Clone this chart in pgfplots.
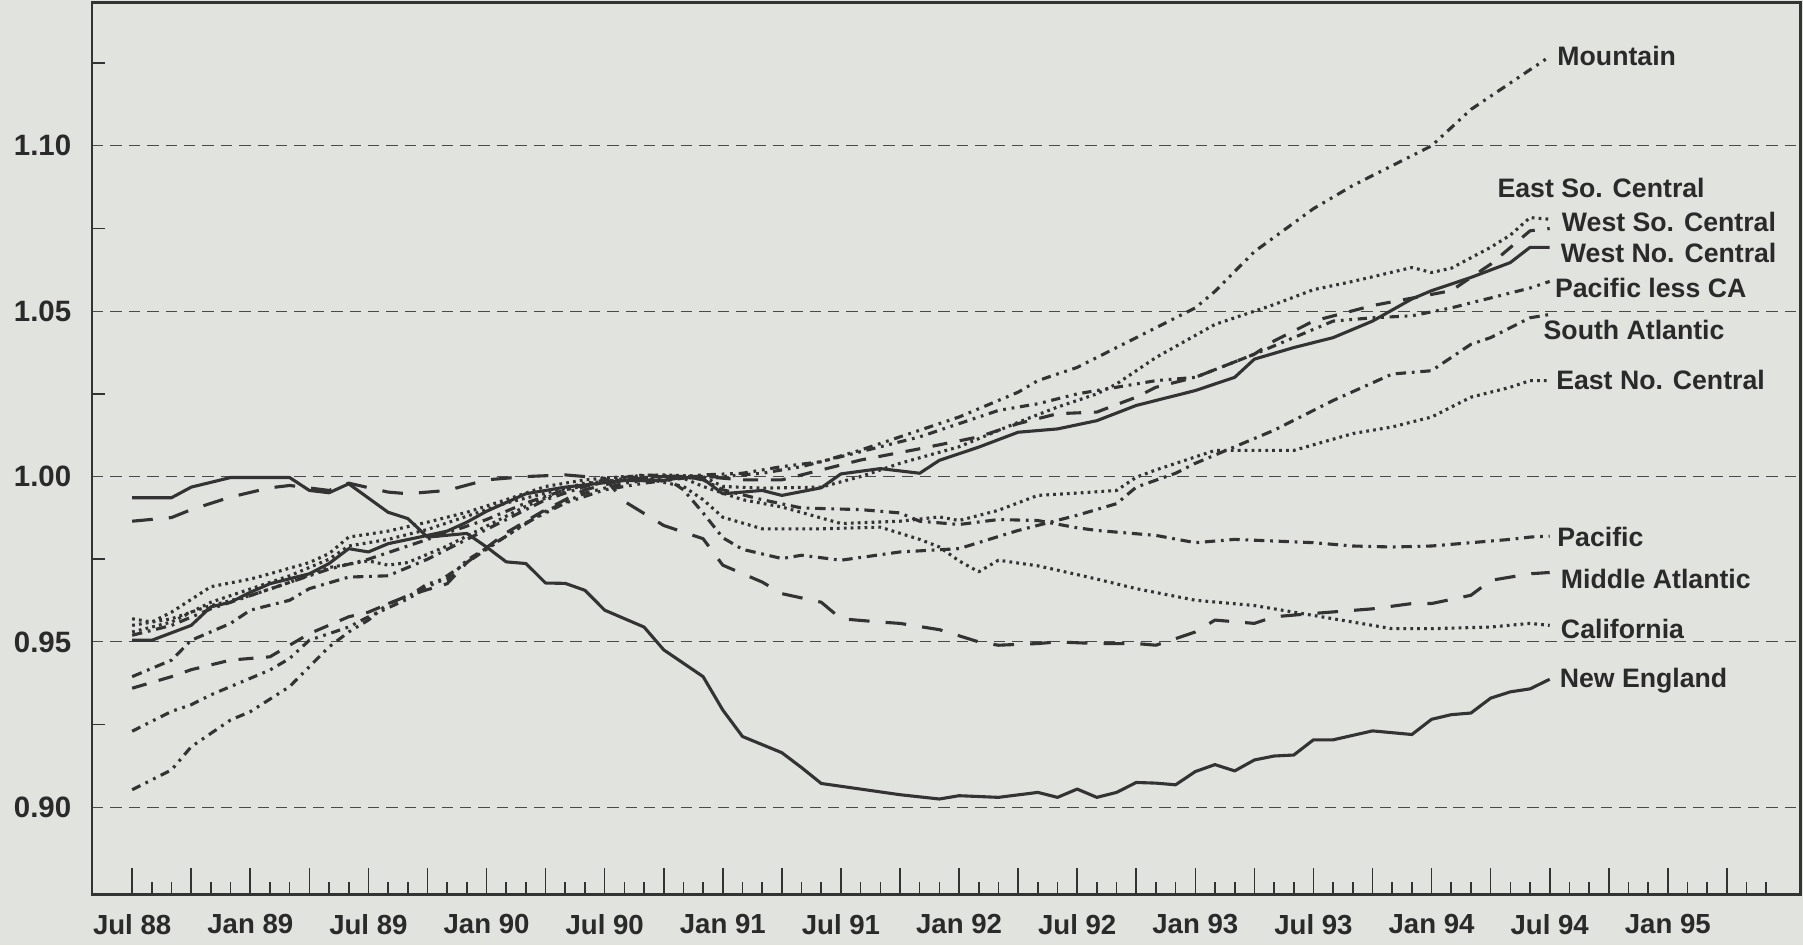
\documentclass[border=0pt]{standalone}
\usepackage{fontspec}
\setmainfont{Liberation Sans}
\usepackage{pgfplots}
\pgfplotsset{compat=1.18}
\definecolor{bg}{HTML}{E1E3DF}
\definecolor{ink}{HTML}{333333}
\definecolor{gridc}{HTML}{4A4A4A}
\definecolor{txt}{HTML}{2A2A2A}
\tikzset{
  lbl/.style={anchor=west, inner sep=0pt, font=\fontsize{11.6}{13}\selectfont\bfseries, text=txt, text height=8.3pt, text depth=0pt},
  sld/.style={solid},
  dtt/.style={dash pattern=on 1.2pt off 1.8pt},
  lds/.style={dash pattern=on 9pt off 7pt},
  mds/.style={dash pattern=on 6.5pt off 5.5pt},
  dd/.style={dash pattern=on 4.5pt off 2.5pt on 1.2pt off 2.5pt},
  ddd/.style={dash pattern=on 4pt off 2.5pt on 1.2pt off 2.5pt on 1.2pt off 2.5pt},
}
\begin{document}
\begin{tikzpicture}
\path[use as bounding box, fill=bg] (0,0) rectangle (784pt,411pt);
\begin{axis}[
  at={(40pt,22pt)}, anchor=south west,
  scale only axis, width=743pt, height=388pt,
  xmin=-2.04, xmax=84.75, ymin=0.8736, ymax=1.1434,
  axis line style={line width=1.1pt, color=ink},
  tick align=inside, xtick pos=bottom, ytick pos=left,
  xtick={0,3,...,81},
  xticklabels={Jul 88,,Jan 89,,Jul 89,,Jan 90,,Jul 90,,Jan 91,,Jul 91,,Jan 92,,Jul 92,,Jan 93,,Jul 93,,Jan 94,,Jul 94,,Jan 95,{}},
  minor xtick={0,1,...,83},
  ytick={0.90,0.95,1.00,1.05,1.10},
  yticklabels={0.90,0.95,1.00,1.05,1.10},
  minor ytick={0.925,0.975,1.025,1.075,1.125},
  major tick length=11.5pt, minor tick length=5.5pt,
  tick style={color=ink, line width=0.7pt},
  every major y tick/.style={draw=none},
  ymajorgrids,
  major grid style={color=gridc, line width=0.5pt, dash pattern=on 5pt off 3pt},
  x tick label style={font=\fontsize{12}{14}\selectfont\bfseries, text=txt, yshift=-5pt},
  y tick label style={font=\fontsize{12.8}{14}\selectfont\bfseries, text=txt, xshift=-5.5pt},
  clip mode=individual,
  every axis plot/.append style={color=ink, line width=1.35pt, line join=round},
]
% New England
\addplot[sld] coordinates {(0,0.9936)(2,0.9936)(3,0.9968)(5,0.9997)(8,0.9997)(9,0.9958)(10,0.9951)(11,0.9978)(13,0.9892)(14,0.9873)(15,0.9817)(17,0.9828)(18,0.9787)(19,0.9742)(20,0.9737)(21,0.9678)(22,0.9677)(23,0.9656)(24,0.9596)(26,0.9545)(27,0.9476)(29,0.9395)(30,0.9294)(31,0.9214)(33,0.9165)(34,0.912)(35,0.9072)(37,0.9055)(39,0.9038)(41,0.9025)(42,0.9035)(44,0.903)(46,0.9045)(47,0.903)(48,0.9055)(49,0.903)(50,0.9045)(51,0.9075)(52,0.9073)(53,0.9068)(54,0.9108)(55,0.9129)(56,0.911)(57,0.9143)(58,0.9155)(59,0.9158)(60,0.9204)(61,0.9204)(63,0.9231)(65,0.922)(66,0.9266)(67,0.928)(68,0.9285)(69,0.933)(70,0.9349)(71,0.9358)(72,0.9387)};
% Middle Atlantic
\addplot[lds] coordinates {(0,0.9865)(2,0.9876)(3,0.990)(5,0.9938)(7,0.9966)(8,0.9973)(10,0.9958)(11,0.998)(13,0.9953)(14,0.9948)(16,0.9958)(18,0.999)(20,1.0)(22,1.0005)(24,0.9995)(25,0.9925)(27,0.9852)(29,0.9812)(30,0.9732)(32,0.9681)(33,0.9646)(35,0.962)(36,0.957)(38,0.956)(39,0.9556)(41,0.9537)(43,0.950)(44,0.949)(46,0.9495)(47,0.950)(49,0.9495)(51,0.9495)(52,0.949)(54,0.953)(55,0.9566)(57,0.9556)(58,0.9576)(60,0.9586)(63,0.960)(65,0.9616)(66,0.9616)(68,0.9641)(69,0.9686)(71,0.9706)(72,0.971)};
% East No. Central
\addplot[dtt] coordinates {(0,0.953)(2,0.956)(4,0.962)(6,0.966)(8,0.970)(10,0.975)(11,0.979)(13,0.981)(15,0.984)(17,0.988)(19,0.992)(21,0.995)(23,0.998)(25,0.999)(27,1.0)(28,0.9995)(29,0.997)(31,0.993)(33,0.9908)(36,0.9858)(39,0.9865)(41,0.9878)(42,0.9867)(44,0.9898)(46,0.9943)(48,0.995)(50,0.9958)(51,0.9998)(52,1.002)(55,1.0079)(59,1.0079)(62,1.013)(64,1.015)(66,1.018)(68,1.024)(70,1.027)(71,1.029)(72,1.029)};
% West No. Central
\addplot[sld] coordinates {(0,0.9505)(1,0.9505)(3,0.955)(4,0.9606)(5,0.962)(6,0.965)(7,0.9676)(9,0.9706)(10,0.9737)(11,0.9782)(12,0.9772)(13,0.9797)(15,0.9822)(16,0.9835)(17,0.9862)(18,0.9895)(20,0.9948)(22,0.9968)(25,0.9988)(27,0.9988)(28,0.9998)(29,0.9993)(30,0.9948)(32,0.9958)(33,0.9943)(35,0.9966)(36,1.0008)(38,1.0024)(40,1.001)(41,1.0049)(43,1.0089)(45,1.0134)(47,1.0144)(49,1.0169)(51,1.0215)(52,1.023)(54,1.026)(56,1.030)(57,1.0355)(59,1.039)(61,1.042)(63,1.047)(65,1.0537)(66,1.0562)(68,1.0602)(70,1.0647)(71,1.0693)(72,1.0693)};
% South Atlantic
\addplot[dd] coordinates {(0,0.9395)(2,0.9445)(3,0.9505)(5,0.9556)(6,0.9596)(8,0.9626)(9,0.9661)(11,0.9696)(13,0.970)(15,0.975)(17,0.981)(19,0.987)(21,0.993)(23,0.997)(25,0.9995)(27,1.0)(28,0.996)(29,0.989)(30,0.9815)(31,0.978)(33,0.9752)(34,0.9762)(36,0.9747)(39,0.9772)(42,0.9782)(45,0.9837)(48,0.9883)(50,0.9918)(51,0.9968)(53,1.001)(54,1.004)(56,1.009)(58,1.014)(61,1.023)(64,1.031)(66,1.032)(68,1.040)(69,1.042)(71,1.048)(72,1.049)};
% East So. Central
\addplot[dtt] coordinates {(0,0.957)(1,0.956)(2,0.959)(4,0.9667)(6,0.969)(7,0.9706)(9,0.974)(10,0.9767)(11,0.9817)(13,0.9835)(15,0.9862)(17,0.9892)(19,0.993)(21,0.997)(23,0.999)(25,1.0)(27,1.0005)(29,1.0)(30,0.997)(32,0.9965)(35,0.9968)(37,1.0)(39,1.004)(42,1.009)(45,1.0164)(47,1.021)(49,1.025)(50,1.028)(52,1.036)(55,1.046)(58,1.052)(60,1.0565)(62,1.059)(65,1.0632)(66,1.0617)(67,1.063)(69,1.0693)(70,1.073)(71,1.0783)(72,1.0778)};
% West So. Central
\addplot[mds] coordinates {(0,0.936)(2,0.9395)(3,0.9416)(5,0.9445)(7,0.9455)(8,0.949)(9,0.9525)(11,0.9576)(12,0.959)(14,0.964)(16,0.9676)(17,0.974)(19,0.983)(21,0.99)(23,0.996)(25,0.999)(27,1.0)(29,1.0)(31,0.999)(33,0.999)(35,1.002)(37,1.005)(40,1.0084)(43,1.012)(45,1.016)(47,1.019)(49,1.0195)(51,1.024)(52,1.027)(54,1.03)(57,1.037)(58,1.041)(60,1.047)(63,1.0517)(67,1.0562)(69,1.0642)(71,1.0743)(72,1.075)};
% Mountain
\addplot[ddd] coordinates {(0,0.9053)(2,0.9113)(3,0.9183)(5,0.9264)(6,0.9289)(8,0.9365)(9,0.9425)(10,0.9485)(11,0.953)(12,0.9566)(13,0.9616)(14,0.9636)(15,0.9676)(16,0.9688)(17,0.9747)(19,0.982)(21,0.9895)(23,0.995)(25,0.998)(27,0.9995)(29,1.0005)(31,1.001)(33,1.003)(35,1.0045)(37,1.008)(39,1.012)(42,1.018)(45,1.0255)(46,1.029)(48,1.033)(50,1.039)(52,1.045)(54,1.051)(55,1.056)(57,1.068)(60,1.081)(62,1.088)(64,1.094)(66,1.10)(68,1.111)(70,1.119)(72,1.127)};
% Pacific
\addplot[dd] coordinates {(0,0.952)(2,0.955)(4,0.960)(6,0.964)(8,0.968)(10,0.972)(12,0.975)(14,0.979)(16,0.983)(18,0.987)(20,0.992)(22,0.996)(24,0.999)(26,1.0005)(28,1.0)(29,0.999)(30,0.996)(32,0.993)(34,0.9905)(37,0.990)(39,0.989)(40,0.9865)(42,0.9855)(44,0.987)(46,0.9867)(48,0.9845)(49,0.9837)(51,0.9827)(52,0.9822)(54,0.980)(56,0.981)(58,0.9805)(60,0.980)(62,0.979)(64,0.9787)(66,0.979)(68,0.980)(70,0.981)(71,0.9817)(72,0.982)};
% California
\addplot[dtt] coordinates {(0,0.955)(2,0.957)(4,0.961)(6,0.964)(8,0.968)(10,0.9725)(12,0.9745)(13,0.9732)(14,0.974)(16,0.979)(18,0.985)(20,0.991)(22,0.996)(24,0.9985)(26,0.9995)(28,0.997)(29,0.993)(30,0.9877)(32,0.9842)(35,0.9842)(38,0.9847)(40,0.981)(41,0.9787)(42,0.9745)(43,0.9712)(44,0.9747)(46,0.973)(47,0.9717)(49,0.969)(51,0.9661)(54,0.9626)(57,0.961)(60,0.958)(62,0.956)(64,0.954)(66,0.954)(69,0.9545)(71,0.9556)(72,0.955)};
% Pacific less CA
\addplot[ddd] coordinates {(0,0.923)(2,0.929)(3,0.931)(4,0.934)(6,0.939)(7,0.9415)(8,0.945)(9,0.9505)(11,0.9545)(12,0.9576)(14,0.963)(16,0.970)(18,0.978)(20,0.986)(22,0.992)(24,0.996)(26,0.998)(28,0.9995)(30,1.0)(32,1.001)(34,1.003)(36,1.006)(38,1.009)(40,1.012)(42,1.016)(44,1.020)(46,1.022)(48,1.025)(50,1.027)(52,1.029)(54,1.030)(57,1.037)(59,1.042)(61,1.047)(63,1.048)(65,1.0486)(67,1.051)(69,1.054)(71,1.057)(72,1.059)};
% labels
\node[lbl] at (axis cs:72.37,1.1271) {Mountain};
\node[lbl] at (axis cs:69.33,1.0872) {East So. Central};
\node[lbl] at (axis cs:72.60,1.0771) {West So. Central};
\node[lbl] at (axis cs:72.55,1.0677) {West No. Central};
\node[lbl] at (axis cs:72.25,1.0569) {Pacific less CA};
\node[lbl] at (axis cs:71.67,1.0444) {South Atlantic};
\node[lbl] at (axis cs:72.31,1.0292) {East No. Central};
\node[lbl] at (axis cs:72.37,0.9816) {Pacific};
\node[lbl] at (axis cs:72.55,0.9691) {Middle Atlantic};
\node[lbl] at (axis cs:72.55,0.9538) {California};
\node[lbl] at (axis cs:72.49,0.9392) {New England};
\end{axis}
\end{tikzpicture}
\end{document}
